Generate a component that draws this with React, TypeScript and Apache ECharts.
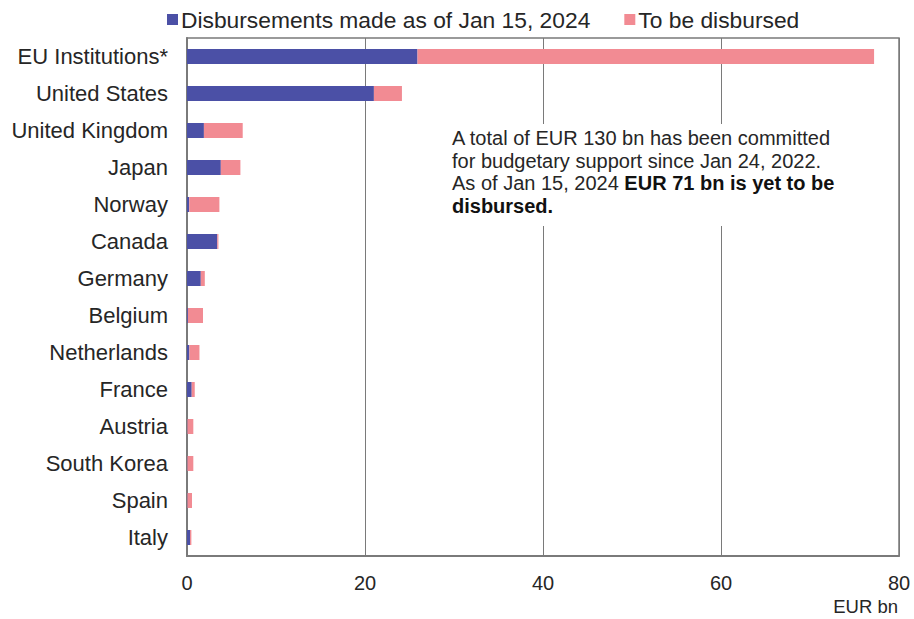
import React, { useEffect, useRef } from "react";
import * as echarts from "echarts";

const categories = [
  "EU Institutions*",
  "United States",
  "United Kingdom",
  "Japan",
  "Norway",
  "Canada",
  "Germany",
  "Belgium",
  "Netherlands",
  "France",
  "Austria",
  "South Korea",
  "Spain",
  "Italy",
];
const disbursed = [25.9, 21.0, 1.9, 3.8, 0.25, 3.4, 1.55, 0.1, 0.27, 0.53, 0.05, 0.05, 0.05, 0.34];
const toBeDisbursed = [51.3, 3.15, 4.36, 2.2, 3.39, 0.13, 0.45, 1.7, 1.13, 0.34, 0.66, 0.66, 0.51, 0.15];
const seriesNames = ["Disbursements made as of Jan 15, 2024", "To be disbursed"];
const xTicks = { min: 0, max: 80, interval: 20 };

const FONT = "'Liberation Sans', Arial, sans-serif";
const TXT = "#262626";

export default function App() {
  const ref = useRef<HTMLDivElement>(null);
  useEffect(() => {
    if (!ref.current) return;
    const chart = echarts.init(ref.current, null, { renderer: "svg" });
    chart.setOption({
      animation: false,
      textStyle: { fontFamily: FONT, color: TXT },
      legend: {
        left: 162,
        top: 3,
        itemWidth: 11,
        itemHeight: 11,
        itemGap: 34,
        icon: "rect",
        textStyle: { fontSize: 22.8, color: TXT, fontFamily: FONT, padding: [0, 0, 0, -2] },
        data: seriesNames,
      },
      grid: {
        left: 187,
        right: 15,
        top: 38,
        bottom: 63,
        show: true,
        borderColor: "#7a7a7a",
        borderWidth: 1.5,
        containLabel: false,
      },
      xAxis: {
        type: "value",
        min: xTicks.min,
        max: xTicks.max,
        interval: xTicks.interval,
        axisLine: { show: true, lineStyle: { color: "#7a7a7a", width: 2 } },
        axisTick: { show: false },
        axisLabel: { fontSize: 20, color: TXT, margin: 17, fontFamily: FONT },
        splitLine: { show: true, lineStyle: { color: "#7a7a7a", width: 1 } },
      },
      yAxis: {
        type: "category",
        inverse: true,
        data: categories,
        axisLine: { show: true, lineStyle: { color: "#7a7a7a", width: 2 } },
        axisTick: { show: false },
        axisLabel: { fontSize: 22, color: TXT, margin: 19, fontFamily: FONT },
      },
      series: [
        {
          name: seriesNames[0],
          type: "bar",
          stack: "total",
          data: disbursed,
          barWidth: 15,
          itemStyle: { color: "#4B50A6" },
        },
        {
          name: seriesNames[1],
          type: "bar",
          stack: "total",
          data: toBeDisbursed,
          barWidth: 15,
          itemStyle: { color: "#F28B93" },
        },
      ],
      graphic: [
        {
          type: "rect",
          left: 445,
          top: 124,
          shape: { width: 395, height: 102 },
          style: { fill: "#ffffff" },
          z: 100,
        },
        {
          type: "text",
          left: 452,
          top: 127,
          z: 101,
          style: {
            text:
              "A total of EUR 130 bn has been committed\nfor budgetary support since Jan 24, 2022.\nAs of Jan 15, 2024 {b|EUR 71 bn is yet to be}\n{b|disbursed.}",
            font: `20px ${FONT}`,
            fill: TXT,
            lineHeight: 22.5,
            rich: {
              b: { fontWeight: "bold", fontSize: 20, fontFamily: FONT, fill: "#111", lineHeight: 22.5 },
            },
          },
        },
        {
          type: "text",
          right: 16,
          top: 597,
          style: { text: "EUR bn", font: `18.5px ${FONT}`, fill: TXT },
        },
      ],
    });
    return () => chart.dispose();
  }, []);
  return <div ref={ref} style={{ width: 914, height: 619, position: "absolute", left: 0, top: 0 }} />;
}
